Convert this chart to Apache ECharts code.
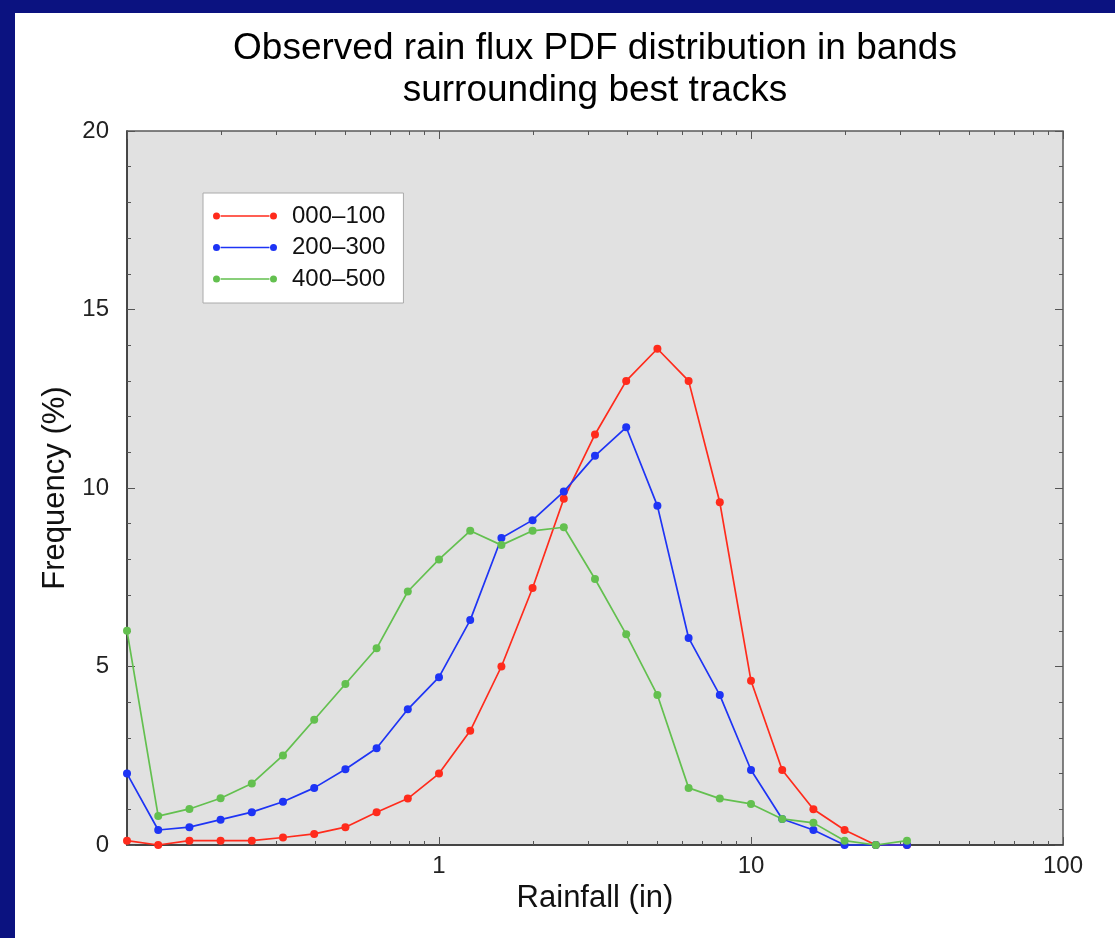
<!DOCTYPE html>
<html>
<head>
<meta charset="utf-8">
<script src="https://cdn.jsdelivr.net/npm/echarts@6/dist/echarts.min.js"></script>
<style>
  html, body { margin: 0; padding: 0; background: #fff; overflow: hidden; }
  #frameTop { position: absolute; left: 0; top: 0; width: 1115px; height: 13px; background: #0b1280; }
  #frameLeft { position: absolute; left: 0; top: 0; width: 15px; height: 938px; background: #0b1280; }
  #rainPdf { position: absolute; left: 0; top: 0; width: 1115px; height: 938px; }
</style>
</head>
<body>
<div id="frameTop"></div>
<div id="frameLeft"></div>
<div id="rainPdf"></div>
<script>
// rain flux PDF, log rainfall bins

var rainfall = [0.1, 0.1259, 0.1585, 0.1995, 0.2512, 0.3162, 0.3981, 0.5012, 0.631, 0.7943,
    1, 1.259, 1.585, 1.995, 2.512, 3.162, 3.981, 5.012, 6.31, 7.943,
    10, 12.59, 15.85, 19.95, 25.12, 31.62];

var band000 = [0.12, 0.0, 0.12, 0.12, 0.12, 0.21, 0.31, 0.5, 0.92, 1.3,
    2.0, 3.2, 5.0, 7.2, 9.7, 11.5, 13.0, 13.9, 13.0, 9.6,
    4.6, 2.1, 1.0, 0.42, 0.0, 0.0];
var band200 = [2.0, 0.42, 0.5, 0.71, 0.92, 1.21, 1.6, 2.12, 2.71, 3.8,
    4.7, 6.3, 8.6, 9.1, 9.9, 10.9, 11.7, 9.5, 5.8, 4.2,
    2.1, 0.73, 0.42, 0.0, 0.0, 0.0];
var band400 = [6.0, 0.81, 1.01, 1.31, 1.72, 2.51, 3.51, 4.51, 5.51, 7.1,
    8.0, 8.8, 8.4, 8.8, 8.9, 7.45, 5.9, 4.2, 1.6, 1.3,
    1.15, 0.73, 0.62, 0.12, 0.0, 0.12];

var bandNames = ['000\u2013100', '200\u2013300', '400\u2013500'];
var bandColors = ['#ff2b1c', '#1e34f5', '#63c04f'];

var majorX = [0.1, 1, 10, 100];
var minorX = [0.2, 0.3, 0.4, 0.5, 0.6, 0.7, 0.8, 0.9,
    2, 3, 4, 5, 6, 7, 8, 9,
    20, 30, 40, 50, 60, 70, 80, 90];

var font = 'Liberation Sans, Arial, sans-serif';

function pairs(ys) {
    return rainfall.map(function (x, i) { return [x, ys[i]]; });
}

// legend icon: two dots joined by a line
var legendIcon = 'path://M0,3.5 a3.5,3.5 0 1,0 7,0 a3.5,3.5 0 1,0 -7,0 Z ' +
    'M7.5,2.8 L56.5,2.8 L56.5,4.2 L7.5,4.2 Z ' +
    'M57,3.5 a3.5,3.5 0 1,0 7,0 a3.5,3.5 0 1,0 -7,0 Z';

var dom = document.getElementById('rainPdf');
var myChart = echarts.init(dom, null, { renderer: 'canvas' });

function logAxis(pos, ticks, len, withLabel) {
    return {
        type: 'log',
        logBase: 10,
        min: 0.1,
        max: 100,
        position: pos,
        axisLine: { show: withLabel, lineStyle: { color: '#333', width: 1.5 } },
        axisTick: {
            show: true,
            inside: true,
            length: len,
            customValues: ticks,
            lineStyle: { color: '#555', width: 1 }
        },
        axisLabel: {
            show: withLabel,
            margin: 9,
            fontSize: 24,
            fontFamily: font,
            color: '#222',
            formatter: function (v) { return v < 0.5 ? '' : String(Math.round(v)); }
        },
        splitLine: { show: false },
        name: withLabel ? 'Rainfall (in)' : '',
        nameLocation: 'middle',
        nameGap: 35,
        nameTextStyle: { fontSize: 31, fontFamily: font, color: '#111' }
    };
}

function freqAxis(pos, withLabel) {
    return {
        type: 'value',
        min: 0,
        max: 20,
        interval: 5,
        position: pos,
        axisLine: { show: withLabel, lineStyle: { color: '#333', width: 1.5 } },
        axisTick: { show: true, inside: true, length: 8, lineStyle: { color: '#555' } },
        minorTick: { show: true, splitNumber: 5, length: 4, lineStyle: { color: '#555' } },
        axisLabel: { show: withLabel, margin: 18, fontSize: 24, fontFamily: font, color: '#222' },
        splitLine: { show: false },
        minorSplitLine: { show: false },
        name: withLabel ? 'Frequency (%)' : '',
        nameLocation: 'middle',
        nameGap: 54,
        nameRotate: 90,
        nameTextStyle: { fontSize: 31, fontFamily: font, color: '#111' }
    };
}

var option = {
    animation: false,
    title: {
        text: 'Observed rain flux PDF distribution in bands\nsurrounding best tracks',
        left: 590,
        top: 23,
        textAlign: 'center',
        textStyle: { fontSize: 37, fontWeight: 'normal', fontFamily: font, color: '#000', lineHeight: 42 }
    },
    legend: {
        orient: 'vertical',
        left: 203,
        top: 193,
        padding: [11, 18, 12, 10],
        itemGap: 7.5,
        itemWidth: 64,
        itemHeight: 7,
        icon: legendIcon,
        backgroundColor: '#fff',
        borderColor: '#aaa',
        borderWidth: 1,
        borderRadius: 0,
        textStyle: { fontSize: 24, lineHeight: 24, fontFamily: font, color: '#111', padding: [0, 0, 0, 10] },
        data: bandNames
    },
    grid: {
        left: 127,
        top: 131,
        width: 936,
        height: 714,
        show: true,
        backgroundColor: '#e1e1e1',
        borderColor: '#5a5a5a',
        borderWidth: 1.5,
        containLabel: false,
        outerBoundsMode: 'none'
    },
    xAxis: [
        logAxis('bottom', majorX, 8, true),
        logAxis('bottom', minorX, 4, false),
        logAxis('top', majorX, 8, false),
        logAxis('top', minorX, 4, false)
    ],
    yAxis: [
        freqAxis('left', true),
        freqAxis('right', false)
    ],
    series: [band000, band200, band400].map(function (ys, i) {
        return {
            name: bandNames[i],
            type: 'line',
            xAxisIndex: 0,
            yAxisIndex: 0,
            data: pairs(ys),
            symbol: 'circle',
            symbolSize: 8,
            showAllSymbol: true,
            clip: false,
            color: bandColors[i],
            lineStyle: { width: 1.7, color: bandColors[i] },
            itemStyle: { color: bandColors[i] }
        };
    })
};

if (option && typeof option === 'object') {
    myChart.setOption(option);
}
</script>
</body>
</html>
